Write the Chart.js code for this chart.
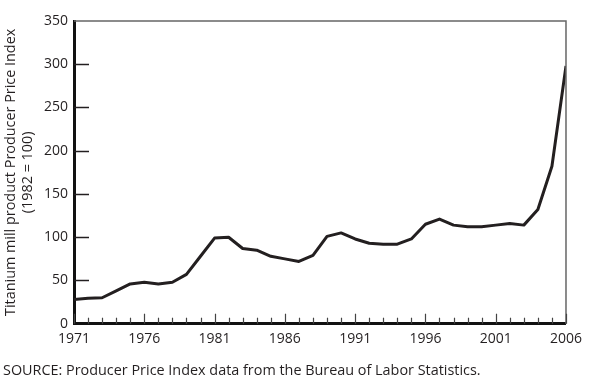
<!DOCTYPE html>
<html>
<head>
<meta charset="utf-8">
<script src="https://cdn.jsdelivr.net/npm/chart.js@4"></script>
<style>
  body { margin: 0; background: #fff; }
</style>
</head>
<body>
<canvas id="ppiChart" width="589" height="386"></canvas>
<script>
// Titanium mill product PPI, 1982 = 100
const years = [1971, 1972, 1973, 1974, 1975, 1976, 1977, 1978, 1979, 1980,
               1981, 1982, 1983, 1984, 1985, 1986, 1987, 1988, 1989, 1990,
               1991, 1992, 1993, 1994, 1995, 1996, 1997, 1998, 1999, 2000,
               2001, 2002, 2003, 2004, 2005, 2006];
const ppi = [28, 29.5, 30, 38, 46, 48, 46, 48, 57, 78,
             99, 100, 87, 85, 78, 75, 72, 79, 101, 105,
             98, 93, 92, 92, 98, 115, 121, 114, 112, 112,
             114, 116, 114, 132, 182, 298];
const xTickYears = [1971, 1976, 1981, 1986, 1991, 1996, 2001, 2006];
const yTicks = [0, 50, 100, 150, 200, 250, 300, 350];

const ink = '#231f20';
Chart.defaults.font.family = "'Open Sans', sans-serif";
Chart.defaults.color = ink;

// inward tick marks and the thin top/right frame
const frameTicks = {
    id: 'frameTicks',
    afterDraw: (chart) => {
        const ctx = chart.ctx;
        const area = chart.chartArea;
        const xs = chart.scales.x;
        const ys = chart.scales.y;
        ctx.save();
        ctx.strokeStyle = '#666';
        ctx.lineWidth = 1.5;
        ctx.beginPath();
        ctx.moveTo(area.left, area.top);
        ctx.lineTo(area.right, area.top);
        ctx.lineTo(area.right, area.bottom);
        ctx.stroke();

        ctx.strokeStyle = ink;
        ctx.lineWidth = 1.5;
        yTicks.slice(1, -1).forEach(v => {
            const py = Math.round(ys.getPixelForValue(v)) + 0.5;
            ctx.beginPath();
            ctx.moveTo(area.left, py);
            ctx.lineTo(area.left + 15, py);
            ctx.stroke();
        });

        ctx.lineWidth = 1.2;
        ctx.strokeStyle = '#444';
        years.forEach(yr => {
            const px = Math.round(xs.getPixelForValue(yr)) + 0.5;
            const len = xTickYears.includes(yr) ? 10 : 6;
            ctx.beginPath();
            ctx.moveTo(px, area.bottom);
            ctx.lineTo(px, area.bottom - len);
            ctx.stroke();
        });
        ctx.restore();
    }
};

const ctx = document.getElementById('ppiChart').getContext('2d');
const myChart = new Chart(ctx, {
    type: 'line',
    data: {
        datasets: [{
            label: 'Titanium mill product PPI',
            data: years.map((yr, i) => ({x: yr, y: ppi[i]})),
            borderColor: ink,
            borderWidth: 3,
            borderJoinStyle: 'round',
            pointRadius: 0,
            tension: 0,
            fill: false
        }]
    },
    options: {
        responsive: false,
        animation: false,
        layout: {
            padding: {left: 3, top: 21, right: 21, bottom: 0}
        },
        plugins: {
            legend: {display: false},
            tooltip: {enabled: false},
            title: {
                display: true,
                position: 'bottom',
                align: 'start',
                text: 'SOURCE: Producer Price Index data from the Bureau of Labor Statistics.',
                color: ink,
                font: {size: 14.4, weight: 'normal', lineHeight: 1.2},
                padding: {top: 9, bottom: 6}
            }
        },
        scales: {
            x: {
                type: 'linear',
                min: 1971,
                max: 2006,
                afterBuildTicks: (scale) => {
                    scale.ticks = xTickYears.map(v => ({value: v}));
                },
                afterFit: (scale) => { scale.height = 30; },
                grid: {display: false, drawTicks: false},
                border: {display: true, color: '#111', width: 3},
                ticks: {
                    padding: 7,
                    maxRotation: 0,
                    autoSkip: false,
                    font: {size: 14},
                    callback: (v) => String(v)
                }
            },
            y: {
                min: 0,
                max: 350,
                afterBuildTicks: (scale) => {
                    scale.ticks = yTicks.map(v => ({value: v}));
                },
                afterFit: (scale) => { scale.width = 71; },
                grid: {display: false, drawTicks: false},
                border: {display: true, color: '#111', width: 3},
                ticks: {
                    padding: 6,
                    font: {size: 14}
                },
                title: {
                    display: true,
                    text: ['Titanium mill product Producer Price Index', '(1982 = 100)'],
                    font: {size: 14.4, lineHeight: 1.15},
                    padding: {top: 0, bottom: 0}
                }
            }
        }
    },
    plugins: [frameTicks]
});
</script>
</body>
</html>
